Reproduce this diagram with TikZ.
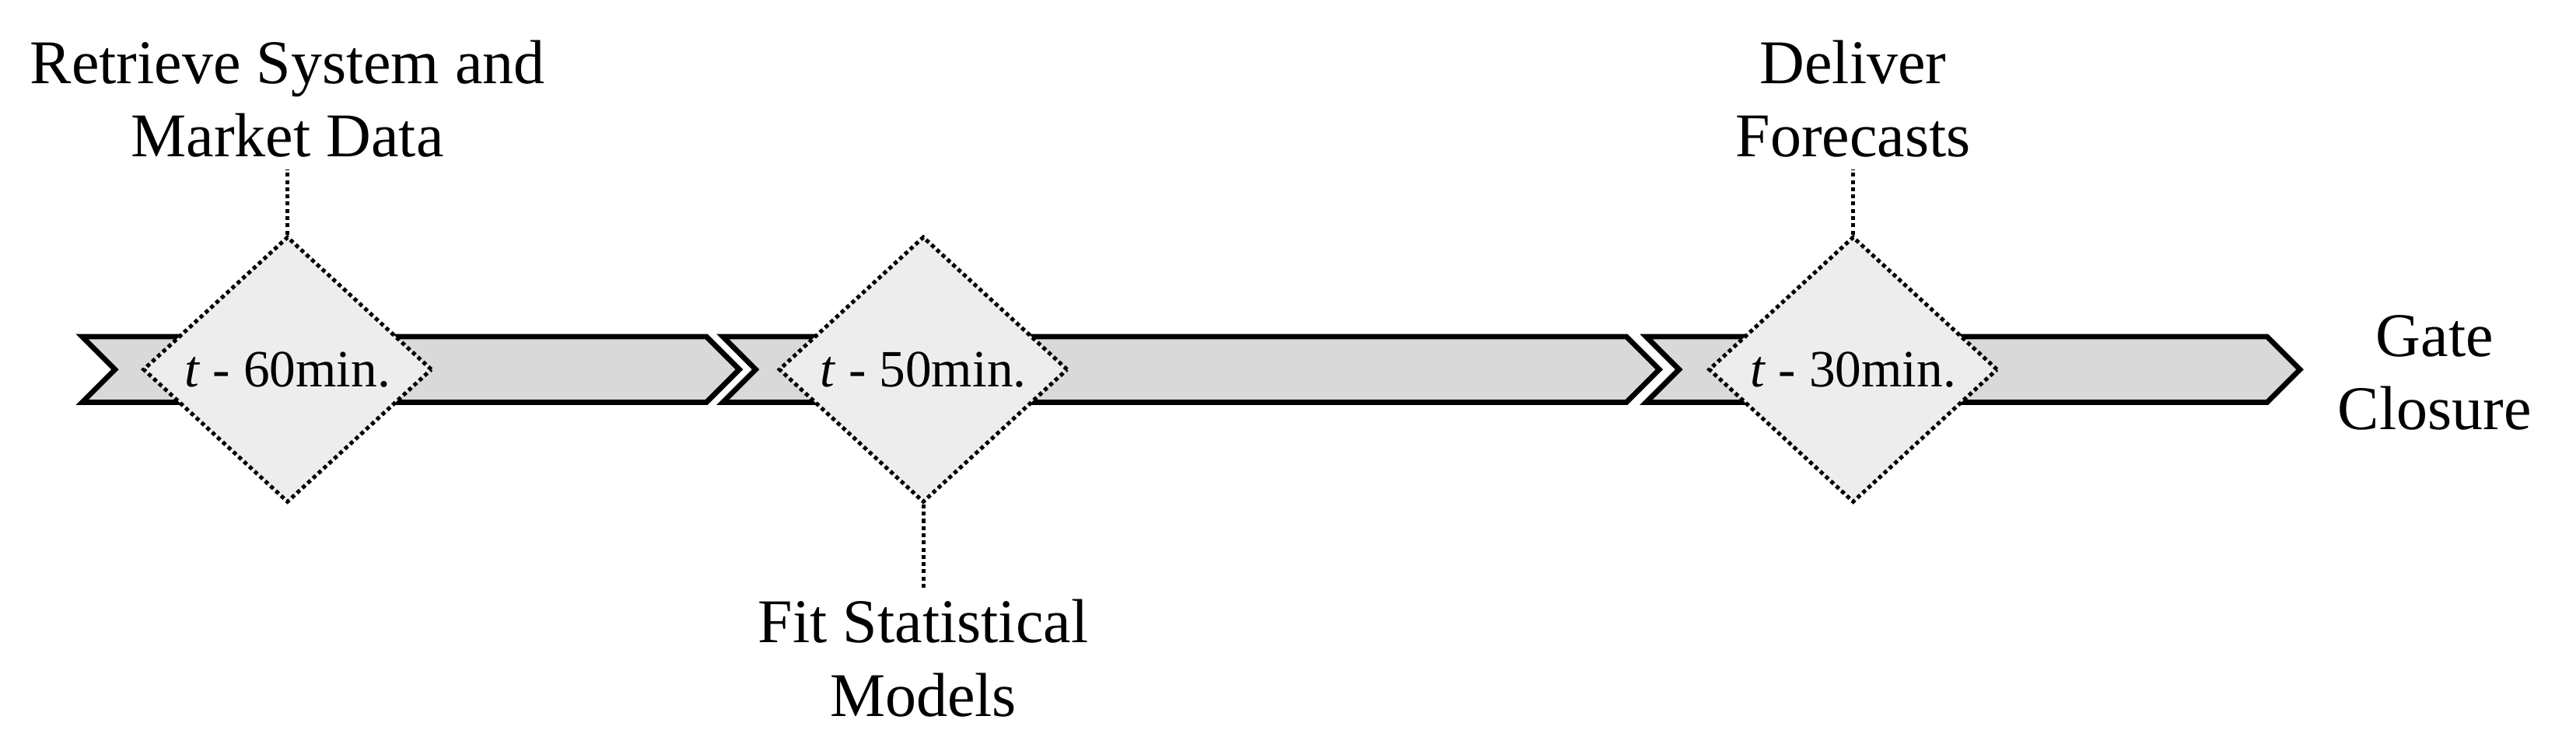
\documentclass[tikz,border=0pt]{standalone}
\usepackage{fontspec}
\setmainfont{Liberation Serif}
\usetikzlibrary{shapes.geometric}
\begin{document}
\begin{tikzpicture}[x=0.5bp,y=-0.5bp,
  chev/.style={draw=black,line width=1.6bp,fill=black!15,line join=miter},
  dia/.style={diamond,draw=black,densely dotted,line width=1.2bp,fill=black!7,inner sep=0pt,minimum width=176bp*0.5,minimum height=162bp*0.5},
  lbl/.style={font=\fontsize{19}{22.5}\selectfont,align=center},
  ilbl/.style={font=\fontsize{16}{19}\selectfont},
  lead/.style={densely dotted,line width=1.2bp}]
\useasboundingbox (0,0) rectangle (1568,457);
\draw[chev] (50,205)--(430,205)--(450,225)--(430,245)--(50,245)--(70,225)--cycle;
\draw[chev] (440,205)--(990,205)--(1010,225)--(990,245)--(440,245)--(460,225)--cycle;
\draw[chev] (1002,205)--(1380,205)--(1400,225)--(1380,245)--(1002,245)--(1022,225)--cycle;
\node[dia] (d1) at (175,225) {};
\node[dia] (d2) at (562,225) {};
\node[dia] (d3) at (1128,225) {};
\node[ilbl] at (d1) {\textit{t} - 60min.};
\node[ilbl] at (d2) {\textit{t} - 50min.};
\node[ilbl] at (d3) {\textit{t} - 30min.};
\node[lbl,anchor=south] (l1) at (175,103) {Retrieve System and\\Market Data};
\node[lbl,anchor=north] (l2) at (562,358) {Fit Statistical\\Models};
\node[lbl,anchor=south] (l3) at (1128,103) {Deliver\\Forecasts};
\node[lbl] (gc) at (1482,227) {Gate\\Closure};
\draw[lead] (d1.north) -- (l1.south);
\draw[lead] (d2.south) -- (l2.north);
\draw[lead] (d3.north) -- (l3.south);
\end{tikzpicture}
\end{document}
